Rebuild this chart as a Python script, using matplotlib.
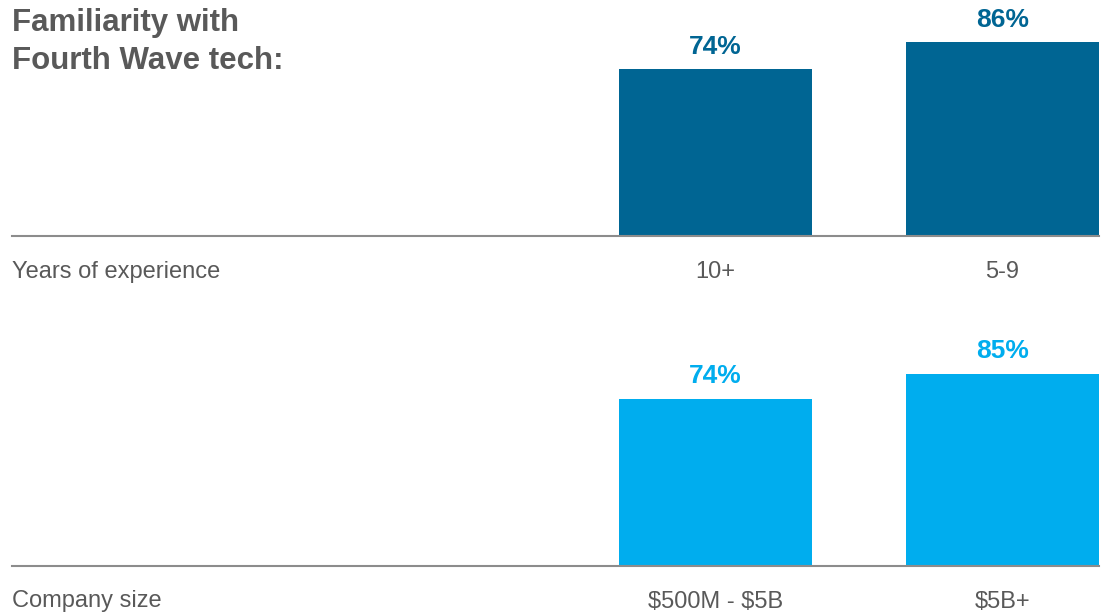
import matplotlib
matplotlib.use('Agg')
from matplotlib import pyplot as plt
from matplotlib import transforms

plt.rcParams['font.family'] = ['Liberation Sans', 'DejaVu Sans']
plt.rcParams['text.parse_math'] = False

title_lines = ['Familiarity with', 'Fourth Wave tech:']

exp_name = 'Years of experience'
exp_groups = ['10+', '5-9']
exp_values = [74, 86]

size_name = 'Company size'
size_groups = ['$500M - $5B', '$5B+']
size_values = [74, 85]

dark_blue = '#006593'
light_blue = '#00adee'
grey_text = '#595959'
rule_grey = '#8c8c8c'

W, H = 1102, 614


def panel(fig, base_px, name, groups, values, color):
    # axes in pixel terms: left 12, right 1099, baseline at base_px from top
    ax = fig.add_axes([12 / W, (H - base_px) / H, 1087 / W, 225 / H])
    x = list(range(len(groups)))
    ax.bar(x, values, width=0.671, color=color)
    ax.set_xlim(-2.447, 1.336)
    ax.set_ylim(0, 100)
    for xi, v in zip(x, values):
        ax.annotate(f'{v}%', (xi, v), xytext=(0, 11.5), textcoords='offset points',
                    ha='center', va='baseline', fontsize=19, fontweight='bold', color=color)
    for s in ['top', 'left', 'right']:
        ax.spines[s].set_visible(False)
    ax.spines['bottom'].set_color(rule_grey)
    ax.spines['bottom'].set_linewidth(1.5)
    ax.set_yticks([])
    ax.set_xticks(x)
    ax.set_xticklabels(groups, fontsize=17, color=grey_text)
    ax.tick_params(axis='x', length=0, pad=18)
    trans = transforms.blended_transform_factory(ax.transAxes, ax.transData)
    ax.annotate(name, (0, 0), xycoords=trans, xytext=(0, -18), textcoords='offset points',
                ha='left', va='top', fontsize=17, color=grey_text)
    ax.patch.set_alpha(0)
    return ax


def main():
    fig = plt.figure(figsize=(W / 100, H / 100), dpi=100)
    for i, line in enumerate(title_lines):
        fig.text(12 / W, 1 - (31 + 38 * i) / H, line, ha='left', va='baseline',
                 fontsize=22.5, fontweight='bold', color=grey_text)
    panel(fig, 236, exp_name, exp_groups, exp_values, dark_blue)
    panel(fig, 565.5, size_name, size_groups, size_values, light_blue)
    fig.savefig('out.png', dpi=100)


if __name__ == '__main__':
    main()
